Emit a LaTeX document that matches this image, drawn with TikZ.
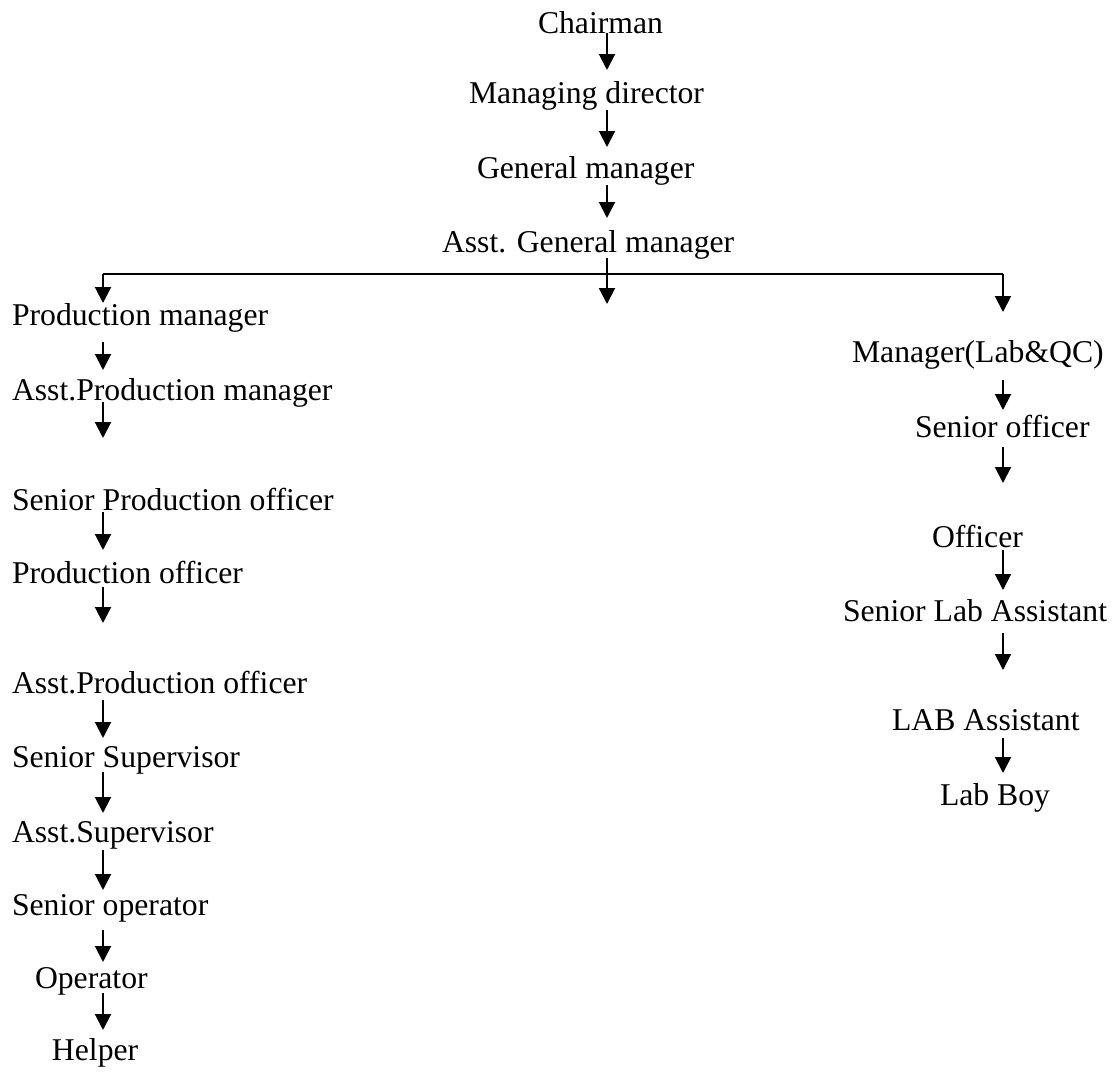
\documentclass[tikz,border=0pt]{standalone}
\usepackage{fontspec}
\setmainfont{Liberation Serif}
\usetikzlibrary{arrows.meta}
\begin{document}
\begin{tikzpicture}[x=0.5pt,y=-0.5pt,
  post/.style={inner sep=0pt,outer sep=0pt,anchor=base west,font=\fontsize{15.85}{19}\selectfont},
  arr/.style={line width=1pt,-{Triangle[width=8pt,length=8pt]}},
  bar/.style={line width=0.65pt}]
\useasboundingbox (0,0) rectangle (1116,1072);
% columns of the three branches
\coordinate (colT) at (607,0);
\coordinate (colL) at (103,0);
\coordinate (colR) at (1003,0);
% top of the chart
\node[post] (chair) at (538,33) {Chairman};
\node[post] (md)    at (469,103) {Managing director};
\node[post] (gm)    at (477,178) {General manager};
\node[post] (agm)   at (442,252) {Asst. General manager};
% production branch
\node[post] (pm)    at (12,325) {Production manager};
\node[post] (apm)   at (12,400) {Asst.Production manager};
\node[post] (spo)   at (12,510) {Senior Production officer};
\node[post] (po)    at (12,583) {Production officer};
\node[post] (apo)   at (12,693) {Asst.Production officer};
\node[post] (ssup)  at (12,767) {Senior Supervisor};
\node[post] (asup)  at (12,842) {Asst.Supervisor};
\node[post] (sop)   at (12,915) {Senior operator};
\node[post] (oper)  at (35,988) {Operator};
\node[post] (help)  at (52,1060) {Helper};
% laboratory branch
\node[post] (mlq)   at (852,362) {Manager(Lab\&QC)};
\node[post] (sof)   at (915,437) {Senior officer};
\node[post] (off)   at (932,547) {Officer};
\node[post] (sla)   at (843,621) {Senior Lab Assistant};
\node[post] (laba)  at (892,730) {LAB Assistant};
\node[post] (boy)   at (940,805) {Lab Boy};
% top spine
\draw[arr] (chair.base -| colT) -- ++(0,37);
\draw[arr] ([yshift=-7*0.5pt]md.base -| colT) -- ++(0,37);
\draw[arr] ([yshift=-7*0.5pt]gm.base -| colT) -- ++(0,33);
\draw[arr] ([yshift=-6*0.5pt]agm.base -| colT) -- ++(0,46);
% branching bar
\coordinate (barL) at (103,274);
\coordinate (barR) at (1003,274);
\draw[bar] (barL) -- (barR);
\draw[arr] (barL) -- (pm.north -| colL);
\draw[arr] (barR) -- ++(0,38);
% production chain
\draw[arr] ([yshift=-17*0.5pt]pm.base -| colL) -- ++(0,28);
\draw[arr] ([yshift=-2*0.5pt]apm.base -| colL) -- ++(0,36);
\draw[arr] ([yshift=-2*0.5pt]spo.base -| colL) -- ++(0,38);
\draw[arr] ([yshift=-4*0.5pt]po.base -| colL) -- ++(0,36);
\draw[arr] ([yshift=-7*0.5pt]apo.base -| colL) -- ++(0,38);
\draw[arr] ([yshift=-5*0.5pt]ssup.base -| colL) -- ++(0,41);
\draw[arr] ([yshift=-8*0.5pt]asup.base -| colL) -- ++(0,40);
\draw[arr] ([yshift=-15*0.5pt]sop.base -| colL) -- ++(0,32);
\draw[arr] ([yshift=-5*0.5pt]oper.base -| colL) -- ++(0,37);
% laboratory chain
\draw[arr] ([yshift=-18*0.5pt]mlq.base -| colR) -- ++(0,30);
\draw[arr] ([yshift=-10*0.5pt]sof.base -| colR) -- ++(0,36);
\draw[arr] ([yshift=-3*0.5pt]off.base -| colR) -- ++(0,40);
\draw[arr] ([yshift=-12*0.5pt]sla.base -| colR) -- ++(0,37);
\draw[arr] ([yshift=-8*0.5pt]laba.base -| colR) -- ++(0,35);
\end{tikzpicture}
\end{document}
